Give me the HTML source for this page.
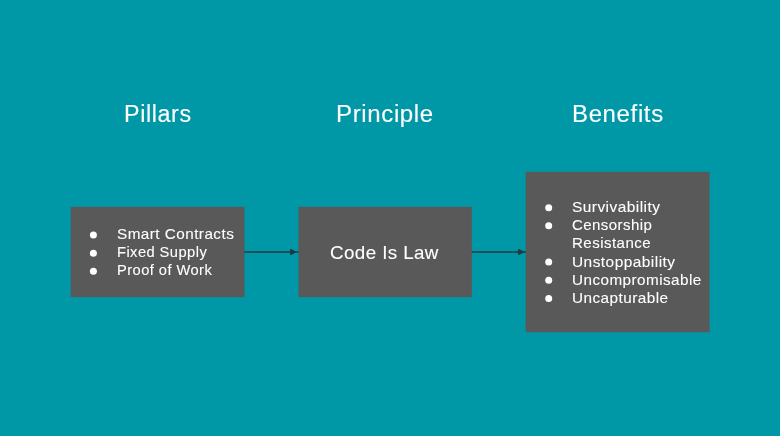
<!DOCTYPE html>
<html lang="en">
<head>
<meta charset="utf-8">
<title>Pillars, Principle, Benefits</title>
<style>
html,body{margin:0;padding:0;}
body{width:780px;height:436px;background:#0097a7;overflow:hidden;position:relative;font-family:"Liberation Sans",Arial,sans-serif;color:#fff;}
.h,.t,.c{position:absolute;white-space:nowrap;transform-origin:0 50%;-webkit-text-stroke:0.1px #fff;}
.layer{position:absolute;left:0;top:0;width:780px;height:436px;will-change:transform;}
.h{font-size:23px;line-height:28px;letter-spacing:0.6px;}
.t{font-size:15px;line-height:18px;letter-spacing:0.45px;}
.c{font-size:18.6px;line-height:22px;letter-spacing:0.4px;}
svg{position:absolute;left:0;top:0;}
</style>
</head>
<body>
<svg width="780" height="436" viewBox="0 0 780 436">
<rect id="b1" x="70.7" y="206.8" width="173.8" height="90.4" fill="#595959"/>
<rect id="b2" x="298.5" y="206.8" width="173.4" height="90.3" fill="#595959"/>
<rect id="b3" x="525.7" y="171.8" width="183.9" height="160.5" fill="#595959"/>
<line x1="244.3" y1="252.0" x2="298.6" y2="252.0" stroke="#1f3a42" stroke-width="1.6"/>
<polygon points="290.0,249.4 291.2,249.1 296.6,252.0 291.2,254.9 290.0,254.6" fill="#1f3a42"/>
<line x1="471.8" y1="252.0" x2="525.8" y2="252.0" stroke="#1f3a42" stroke-width="1.6"/>
<polygon points="517.9,249.4 519.1,249.1 524.5,252.0 519.1,254.9 517.9,254.6" fill="#1f3a42"/>
<circle cx="93.4" cy="235.1" r="3.5" fill="#fff"/>
<circle cx="93.4" cy="253.3" r="3.5" fill="#fff"/>
<circle cx="93.4" cy="271.2" r="3.5" fill="#fff"/>
<circle cx="548.7" cy="207.7" r="3.5" fill="#fff"/>
<circle cx="548.7" cy="225.8" r="3.5" fill="#fff"/>
<circle cx="548.7" cy="261.9" r="3.5" fill="#fff"/>
<circle cx="548.7" cy="280.3" r="3.5" fill="#fff"/>
<circle cx="548.7" cy="298.6" r="3.5" fill="#fff"/>
</svg>
<div class="layer">
<div class="h" id="h1" style="left:123.9px;top:100px;transform:scaleX(1.0131)">Pillars</div>
<div class="h" id="h2" style="left:335.9px;top:100px;transform:scaleX(1.0451)">Principle</div>
<div class="h" id="h3" style="left:571.8px;top:100px;transform:scaleX(1.044)">Benefits</div>
<div class="t" id="l1" style="left:117.0px;top:225px;transform:scaleX(1.0185)">Smart Contracts</div>
<div class="t" id="l2" style="left:117.2px;top:243px;transform:scaleX(0.9788)">Fixed Supply</div>
<div class="t" id="l3" style="left:117.2px;top:261px;transform:scaleX(0.9787)">Proof of Work</div>
<div class="c" id="c1" style="left:330.2px;top:242px;transform:scaleX(1.0099)">Code Is Law</div>
<div class="t" id="r1" style="left:572.1px;top:198px;transform:scaleX(1.029)">Survivability</div>
<div class="t" id="r2" style="left:572.0px;top:216px;transform:scaleX(0.9995)">Censorship</div>
<div class="t" id="r3" style="left:572.1px;top:234px;transform:scaleX(1.0043)">Resistance</div>
<div class="t" id="r4" style="left:572.2px;top:253px;transform:scaleX(1.0295)">Unstoppability</div>
<div class="t" id="r5" style="left:571.9px;top:271px;transform:scaleX(1.0167)">Uncompromisable</div>
<div class="t" id="r6" style="left:572.2px;top:289px;transform:scaleX(1.0207)">Uncapturable</div>
</div>
</body>
</html>
